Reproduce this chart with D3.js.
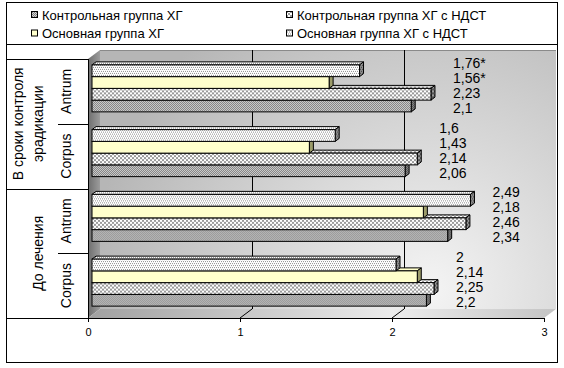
<!DOCTYPE html>
<html>
<head>
<meta charset="utf-8">
<script src="https://cdn.jsdelivr.net/npm/d3@7"></script>
<style>
    body { margin: 0; background: #fff; }
    #chart { width: 564px; height: 368px; }
    text { font-family: Arial, "Liberation Sans", sans-serif; fill: #000; }
</style>
</head>
<body>
<div id="chart"></div>
<script>

// categories, top to bottom
const periods = ["В сроки контроля эрадикации", "До лечения"];
const sites = ["Antrum", "Corpus"];

// series, legend order
const seriesNames = ["Контрольная группа ХГ", "Контрольная группа ХГ с НДСТ", "Основная группа ХГ", "Основная группа ХГ с НДСТ"];

// values, one per category (period x site)
const controlHG     = [2.1, 2.06, 2.34, 2.2];
const controlHGndst = [2.23, 2.14, 2.46, 2.25];
const mainHG        = [1.56, 1.43, 2.18, 2.14];
const mainHGndst    = [1.76, 1.6, 2.49, 2.0];

// significance marks after the value
const controlHGmark     = ["", "", "", ""];
const controlHGndstMark = ["", "", "", ""];
const mainHGmark        = ["*", "", "", ""];
const mainHGndstMark    = ["*", "", "", ""];

const xTicks = [0, 1, 2, 3];


class BarChart3D {

    constructor(_parentElement) {
        this.parentElement = _parentElement;
        this.initVis();
    }

    initVis() {
        let vis = this;

        vis.width = 564;
        vis.height = 368;

        // front plane of the 3d box and depth offset
        vis.box = {left: 88, right: 544, top: 59, bottom: 318};
        vis.depth = {dx: 12, dy: -9};

        vis.svg = d3.select("#" + vis.parentElement).append("svg")
            .attr("width", vis.width)
            .attr("height", vis.height);

        vis.defs = vis.svg.append("defs");
        vis.makePatterns();

        // outer frame + legend line
        vis.svg.append("rect")
            .attr("x", 6.5).attr("y", 2.5)
            .attr("width", 551).attr("height", 360)
            .attr("fill", "none").attr("stroke", "#000");
        vis.svg.append("line")
            .attr("x1", 6.5).attr("x2", 557.5)
            .attr("y1", 44.5).attr("y2", 44.5)
            .attr("stroke", "#000");

        vis.x = d3.scaleLinear()
            .domain([0, 3])
            .range([vis.box.left, vis.box.right]);

        vis.categories = [];
        periods.forEach(p => sites.forEach(s => vis.categories.push(p + "|" + s)));

        vis.y = d3.scaleBand()
            .domain(vis.categories)
            .range([vis.box.top, vis.box.bottom]);

        vis.groupY = d3.scaleBand()
            .domain(periods)
            .range([vis.box.top, vis.box.bottom]);

        vis.wrangleData();
    }

    makePatterns() {
        let vis = this;

        // [id, size, background, dot colour, dots as [x, y, w, h]]
        let specs = [
            ["pDense", 2, "#d4d4d4", "#7c7c7c", [[0, 0, 1, 1], [1, 1, 1, 1]]],
            ["pDenseSide", 2, "#8a8a8a", "#4c4c4c", [[0, 0, 1, 1], [1, 1, 1, 1]]],
            ["pCheck", 4, "#ffffff", "#9a9a9a", [[0, 0, 2, 2], [2, 2, 2, 2]]],
            ["pCheckSide", 4, "#9a9a9a", "#555555", [[0, 0, 2, 2], [2, 2, 2, 2]]],
            ["pDots", 4, "#ffffff", "#8c8c8c", [[0, 0, 1, 1], [2, 0, 1, 1], [1, 2, 1, 1], [3, 2, 1, 1]]],
            ["pDotsSide", 4, "#8c8c8c", "#4a4a4a", [[0, 0, 1, 1], [2, 0, 1, 1], [1, 2, 1, 1], [3, 2, 1, 1]]]
        ];

        specs.forEach(sp => {
            let p = vis.defs.append("pattern")
                .attr("id", sp[0])
                .attr("patternUnits", "userSpaceOnUse")
                .attr("width", sp[1]).attr("height", sp[1]);
            p.append("rect").attr("width", sp[1]).attr("height", sp[1]).attr("fill", sp[2]);
            sp[4].forEach(d => p.append("rect")
                .attr("x", d[0]).attr("y", d[1]).attr("width", d[2]).attr("height", d[3])
                .attr("fill", sp[3]));
        });

        // back wall shading
        let wall = vis.defs.append("radialGradient")
            .attr("id", "wallGrad")
            .attr("gradientUnits", "userSpaceOnUse")
            .attr("cx", 430).attr("cy", 290).attr("r", 340);
        wall.append("stop").attr("offset", "0%").attr("stop-color", "#f4f4f4");
        wall.append("stop").attr("offset", "100%").attr("stop-color", "#b6b6b6");

        let side = vis.defs.append("linearGradient").attr("id", "sideGrad");
        side.append("stop").attr("offset", "0%").attr("stop-color", "#6e6e6e");
        side.append("stop").attr("offset", "100%").attr("stop-color", "#9c9c9c");

        let floor = vis.defs.append("linearGradient").attr("id", "floorGrad");
        floor.append("stop").attr("offset", "0%").attr("stop-color", "#a0a0a0");
        floor.append("stop").attr("offset", "65%").attr("stop-color", "#ececec");
        floor.append("stop").attr("offset", "100%").attr("stop-color", "#c4c4c4");
    }

    wrangleData() {
        let vis = this;

        let values = [controlHG, controlHGndst, mainHG, mainHGndst];
        let marks = [controlHGmark, controlHGndstMark, mainHGmark, mainHGndstMark];
        let fills = [["pDense", "pDenseSide"], ["pCheck", "pCheckSide"], ["#ffffcc", "#9c9c6a"], ["pDots", "pDotsSide"]];

        vis.seriesInfo = seriesNames.map((name, i) => ({
            name: name,
            front: fills[i][0].startsWith("#") ? fills[i][0] : "url(#" + fills[i][0] + ")",
            side: fills[i][1].startsWith("#") ? fills[i][1] : "url(#" + fills[i][1] + ")"
        }));

        // one entry per bar
        vis.displayData = [];
        vis.categories.forEach((c, ci) => {
            seriesNames.forEach((name, si) => {
                vis.displayData.push({
                    category: c,
                    series: name,
                    si: si,
                    value: values[si][ci],
                    label: String(values[si][ci]).replace(".", ",") + marks[si][ci],
                    groupMax: d3.max(values, v => v[ci])
                });
            });
        });

        vis.updateVis();
    }

    updateVis() {
        let vis = this;
        let b = vis.box, dx = vis.depth.dx, dy = vis.depth.dy;

        // walls
        vis.svg.append("rect")
            .attr("x", b.left + dx).attr("y", b.top + dy)
            .attr("width", b.right - b.left).attr("height", b.bottom - b.top)
            .attr("fill", "url(#wallGrad)");
        vis.svg.append("line")
            .attr("x1", b.left + dx).attr("x2", b.right + dx)
            .attr("y1", b.top + dy + 0.5).attr("y2", b.top + dy + 0.5)
            .attr("stroke", "#8a8a8a");
        vis.svg.append("polygon")
            .attr("points", [[b.left, b.top], [b.left + dx, b.top + dy], [b.left + dx, b.bottom + dy], [b.left, b.bottom]].join(" "))
            .attr("fill", "url(#sideGrad)");
        vis.svg.append("polygon")
            .attr("points", [[b.left, b.bottom], [b.left + dx, b.bottom + dy], [b.right + dx, b.bottom + dy], [b.right, b.bottom]].join(" "))
            .attr("fill", "url(#floorGrad)");

        // gridlines on the back wall and floor
        let grid = vis.svg.append("g").attr("class", "grid")
            .selectAll("g").data(xTicks.filter(t => t > 0 && t < 3))
            .enter().append("g");
        grid.append("line")
            .attr("x1", d => Math.round(vis.x(d) + dx) + 0.5).attr("x2", d => Math.round(vis.x(d) + dx) + 0.5)
            .attr("y1", b.top + dy).attr("y2", b.bottom + dy)
            .attr("stroke", "#000");
        grid.append("line")
            .attr("x1", d => vis.x(d) + dx).attr("x2", d => vis.x(d))
            .attr("y1", b.bottom + dy).attr("y2", b.bottom)
            .attr("stroke", "#000");

        // bars: front face sits 1/3 into the depth
        let ox = dx / 3, oy = dy / 3;
        let bh = 47;
        let sub = d3.scaleBand()
            .domain([3, 2, 1, 0])
            .range([-bh / 2, bh / 2]);

        // draw bottom bar first so the ones above cover its top face
        let ordered = vis.displayData.slice().sort((a, c) => a.si - c.si);

        let bars = vis.svg.append("g").attr("class", "bars")
            .selectAll("g").data(ordered)
            .enter().append("g")
            .attr("transform", d => "translate(" + (vis.x(0) + ox) + "," +
                (vis.y(d.category) + vis.y.bandwidth() / 2 + oy + sub(d.si)) + ")");

        let w = d => vis.x(d.value) - vis.x(0);
        let h = sub.bandwidth();

        bars.append("polygon")
            .attr("points", d => [[0, 0], [ox, oy], [w(d) + ox, oy], [w(d), 0]].join(" "))
            .attr("fill", d => vis.seriesInfo[d.si].front)
            .attr("stroke", "#000").attr("stroke-linejoin", "round");
        bars.append("polygon")
            .attr("points", d => [[w(d), 0], [w(d) + ox, oy], [w(d) + ox, h + oy], [w(d), h]].join(" "))
            .attr("fill", d => vis.seriesInfo[d.si].side)
            .attr("stroke", "#000").attr("stroke-linejoin", "round");
        bars.append("rect")
            .attr("width", d => w(d)).attr("height", h)
            .attr("fill", d => vis.seriesInfo[d.si].front)
            .attr("stroke", "#000");

        // value labels, stacked to the right of each group
        vis.svg.append("g").attr("class", "labels")
            .selectAll("text").data(vis.displayData)
            .enter().append("text")
            .attr("x", d => vis.x(d.groupMax) + 26)
            .attr("y", d => vis.y(d.category) + vis.y.bandwidth() / 2 - 6 + (1.5 - d.si) * 15)
            .attr("dominant-baseline", "central")
            .style("font-size", "14px")
            .text(d => d.label);

        // x axis
        let axis = vis.svg.append("g").attr("class", "x-axis");
        axis.append("line")
            .attr("x1", 6.5).attr("x2", b.right)
            .attr("y1", b.bottom + 0.5).attr("y2", b.bottom + 0.5)
            .attr("stroke", "#000");
        let ticks = axis.selectAll("g").data(xTicks).enter().append("g")
            .attr("transform", d => "translate(" + (Math.round(vis.x(d)) + 0.5) + "," + b.bottom + ")");
        ticks.append("line").attr("y2", 4).attr("stroke", "#000");
        ticks.append("text")
            .attr("y", 14)
            .attr("text-anchor", "middle")
            .attr("dominant-baseline", "central")
            .style("font-size", "11px")
            .text(d => d);

        // category axis
        let cat = vis.svg.append("g").attr("class", "cat-axis");
        cat.append("line")
            .attr("x1", b.left + 0.5).attr("x2", b.left + 0.5)
            .attr("y1", b.top).attr("y2", b.bottom)
            .attr("stroke", "#000");
        cat.selectAll(".group-line").data(periods.concat(["end"]).slice(0, periods.length))
            .enter().append("line")
            .attr("x1", 6.5).attr("x2", b.left)
            .attr("y1", d => Math.round(vis.groupY(d)) + 0.5).attr("y2", d => Math.round(vis.groupY(d)) + 0.5)
            .attr("stroke", "#000");
        cat.selectAll(".site-line").data(vis.categories.filter((c, i) => i % sites.length !== 0))
            .enter().append("line")
            .attr("x1", 58).attr("x2", b.left)
            .attr("y1", d => Math.round(vis.y(d)) + 0.5).attr("y2", d => Math.round(vis.y(d)) + 0.5)
            .attr("stroke", "#000");

        cat.selectAll(".site-label").data(vis.categories)
            .enter().append("text")
            .attr("transform", d => "translate(66," + (vis.y(d) + vis.y.bandwidth() / 2) + ") rotate(-90)")
            .attr("text-anchor", "middle")
            .attr("dominant-baseline", "central")
            .style("font-size", "14px")
            .text(d => d.split("|")[1]);

        // period labels, wrapped to the band height
        periods.forEach(p => {
            let cy = vis.groupY(p) + vis.groupY.bandwidth() / 2;
            let lines = vis.wrap(p, vis.groupY.bandwidth() - 14, 14);
            lines.forEach((line, i) => {
                cat.append("text")
                    .attr("transform", "translate(" + (38 - (lines.length - 1 - i) * 20) + "," + cy + ") rotate(-90)")
                    .attr("text-anchor", "middle")
                    .attr("dominant-baseline", "central")
                    .style("font-size", "14px")
                    .text(line);
            });
        });

        // legend, two columns
        let legend = vis.svg.append("g").attr("class", "legend")
            .selectAll("g").data(vis.seriesInfo)
            .enter().append("g")
            .attr("transform", (d, i) => "translate(" + [31, 286][i % 2] + "," + [15, 33.5][Math.floor(i / 2)] + ")");
        legend.append("rect")
            .attr("x", 0.5).attr("y", -3.5)
            .attr("width", 6).attr("height", 6)
            .attr("fill", d => d.front)
            .attr("stroke", "#000");
        legend.append("text")
            .attr("x", 11)
            .attr("dominant-baseline", "central")
            .style("font-size", "13px")
            .text(d => d.name);
    }

    // greedy word wrap using measured text width
    wrap(str, maxWidth, size) {
        let vis = this;
        let probe = vis.svg.append("text").style("font-size", size + "px");
        let words = str.split(" "), lines = [], cur = "";
        words.forEach(word => {
            let test = cur ? cur + " " + word : word;
            probe.text(test);
            if (probe.node().getComputedTextLength() > maxWidth && cur) {
                lines.push(cur);
                cur = word;
            } else {
                cur = test;
            }
        });
        lines.push(cur);
        probe.remove();
        return lines;
    }
}

new BarChart3D("chart");

</script>
</body>
</html>
